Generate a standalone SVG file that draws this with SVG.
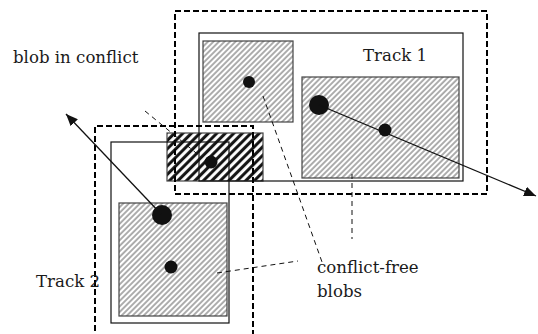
<svg xmlns="http://www.w3.org/2000/svg" width="538" height="334" viewBox="0 0 538 334">
<style>
.t{font-family:'DejaVu Serif','Noto Serif',serif;font-size:16.6px;fill:#1a1a1a}
.dbox{fill:none;stroke:#000;stroke-width:2;stroke-dasharray:6,3}
.box{fill:none;stroke:#111;stroke-width:1.2}
.blob{fill:url(#hatch);stroke:#444;stroke-width:1.2}
.cblob{fill:url(#hatchDark);stroke:#444;stroke-width:1.2}
.lead{fill:none;stroke:#111;stroke-width:1;stroke-dasharray:5,4}
.dot{fill:#111}
.arrow{stroke:#111;stroke-width:1.3;fill:none;marker-end:url(#ah)}
</style>
<defs>
<pattern id="hatch" patternUnits="userSpaceOnUse" width="3.9" height="10" patternTransform="rotate(45)">
<rect width="3.9" height="10" fill="#fff"/>
<line x1="1" y1="0" x2="1" y2="10" stroke="#a0a0a0" stroke-width="1.7"/>
</pattern>
<pattern id="hatchDark" patternUnits="userSpaceOnUse" width="6" height="10" patternTransform="rotate(45)">
<rect width="6" height="10" fill="#fff"/>
<line x1="1.6" y1="0" x2="1.6" y2="10" stroke="#111" stroke-width="3"/>
</pattern>
<marker id="ah" viewBox="0 0 12 10" refX="12" refY="5" markerWidth="12" markerHeight="10" markerUnits="userSpaceOnUse" orient="auto">
<path d="M0,0 L12,5 L0,10 z" fill="#111"/>
</marker>
</defs>

<g id="blob-conflict">
<rect class="cblob" x="167" y="133" width="96" height="48"/>
<circle class="dot" cx="211" cy="162" r="6.5"/>
</g>
<g id="blob-t1-a">
<rect class="blob" x="203" y="41" width="90" height="81"/>
<circle class="dot" cx="249" cy="82" r="6"/>
</g>
<g id="blob-t1-b">
<rect class="blob" x="302" y="77" width="157" height="101"/>
<circle class="dot" cx="319" cy="105" r="10"/>
<circle class="dot" cx="385" cy="130" r="6.5"/>
</g>
<g id="blob-t2">
<rect class="blob" x="119" y="203" width="108" height="113"/>
<circle class="dot" cx="162" cy="215" r="10"/>
<circle class="dot" cx="171" cy="267" r="6.5"/>
</g>

<g id="track1">
<rect class="box" x="199" y="33" width="264" height="148"/>
<rect class="dbox" x="175" y="11" width="312" height="183"/>
<text class="t" x="363" y="61">Track 1</text>
</g>
<g id="track2">
<rect class="box" x="111" y="142" width="118" height="181"/>
<path class="dbox" d="M95,340 V126 H253 V340"/>
<text class="t" x="36" y="287">Track 2</text>
</g>

<g id="label-conflict">
<text class="t" x="13" y="63">blob in conflict</text>
</g>
<g id="label-free">
<text class="t" x="317" y="273">conflict-free</text>
<text class="t" x="317" y="297">blobs</text>
</g>

<g id="connectors">
<line class="arrow" x1="319" y1="105" x2="536" y2="196"/>
<line class="arrow" x1="162" y1="215" x2="66" y2="114"/>
<line class="lead" x1="145" y1="111" x2="201" y2="157"/>
<line class="lead" x1="263" y1="96" x2="322" y2="262"/>
<line class="lead" x1="352" y1="174" x2="352" y2="239"/>
<line class="lead" x1="217" y1="273" x2="298" y2="261"/>
</g>
</svg>
